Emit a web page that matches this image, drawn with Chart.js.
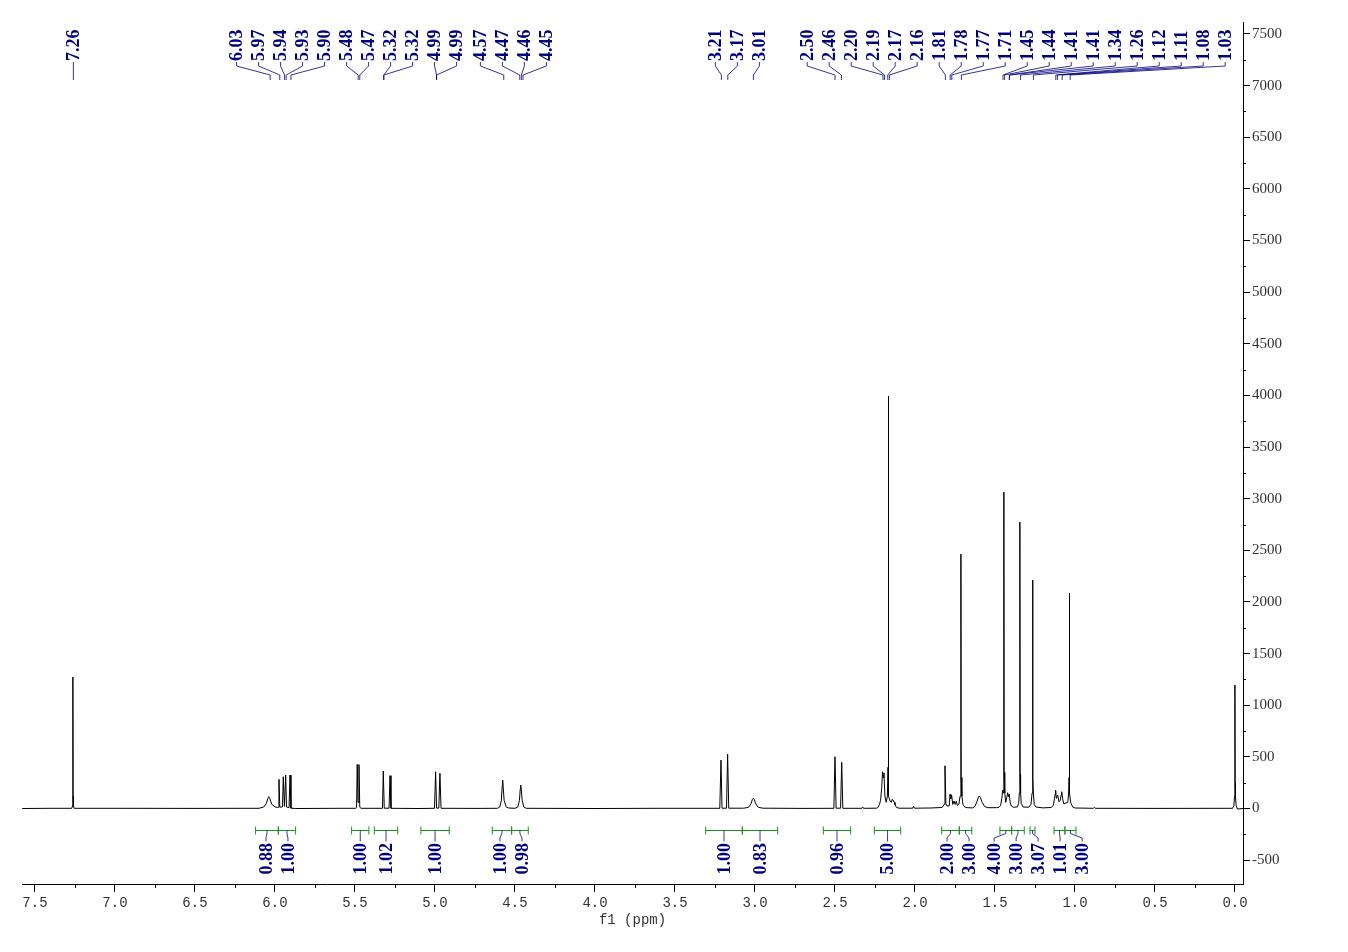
<!DOCTYPE html>
<html>
<head>
<meta charset="utf-8">
<title>1H NMR</title>
<script src="https://cdn.jsdelivr.net/npm/chart.js@4.4.0/dist/chart.umd.min.js"></script>
<style>
  html, body { margin: 0; padding: 0; background: #fff; }
  canvas { display: block; }
</style>
</head>
<body>
<canvas id="nmr" width="1348" height="952"></canvas>
<script>
// spectrum (ppm, intensity), high ppm first
const spectrumPpm = [
  7.58, 7.40, 7.270, 7.265, 7.2635, 7.2625, 7.2615, 7.260, 7.255, 7.0, 6.5, 6.2,
  6.10, 6.07, 6.055, 6.045, 6.039, 6.032, 6.02, 6.0, 5.985,
  5.980, 5.975, 5.970, 5.953, 5.948, 5.941, 5.933, 5.928, 5.912, 5.906, 5.900, 5.87,
  5.60, 5.495, 5.490, 5.486, 5.481, 5.475, 5.470, 5.462,
  5.33, 5.328, 5.323, 5.317, 5.287, 5.281, 5.275, 5.1,
  5.003, 4.996, 4.990, 4.976, 4.969, 4.962, 4.75,
  4.61, 4.595, 4.585, 4.580, 4.577, 4.574, 4.568, 4.555, 4.54,
  4.50, 4.482, 4.472, 4.467, 4.464, 4.461, 4.455, 4.445, 4.43,
  4.0, 3.6, 3.22, 3.2125, 3.206, 3.178, 3.171, 3.164,
  3.07, 3.04, 3.025, 3.016, 3.011, 3.005, 2.995, 2.98, 2.95, 2.70,
  2.507, 2.500, 2.493, 2.465, 2.458, 2.451, 2.332, 2.327, 2.322,
  2.24, 2.23, 2.222, 2.215, 2.208, 2.203, 2.199, 2.194, 2.188, 2.180,
  2.1725, 2.1685, 2.1675, 2.1665, 2.1625, 2.155, 2.148, 2.142, 2.137, 2.130, 2.125, 2.115, 2.10,
  2.014, 2.009, 2.004, 1.90,
  1.83, 1.818, 1.8125, 1.807, 1.80, 1.786, 1.781, 1.776, 1.771, 1.764,
  1.756, 1.749, 1.742, 1.735, 1.726, 1.718, 1.7135, 1.7125, 1.7115, 1.707, 1.700, 1.69, 1.675,
  1.64, 1.625, 1.612, 1.603, 1.598, 1.592, 1.580, 1.565, 1.545,
  1.49, 1.475, 1.465, 1.457, 1.452, 1.448, 1.445, 1.444, 1.443, 1.439, 1.433,
  1.426, 1.421, 1.416, 1.411, 1.405, 1.398, 1.385,
  1.36, 1.352, 1.348, 1.345, 1.344, 1.343, 1.340, 1.336, 1.325,
  1.29, 1.275, 1.268, 1.265, 1.264, 1.263, 1.260, 1.255, 1.245, 1.20,
  1.15, 1.135, 1.128, 1.124, 1.121, 1.117, 1.113, 1.108, 1.100,
  1.092, 1.087, 1.083, 1.078, 1.070,
  1.045, 1.040, 1.037, 1.036, 1.035, 1.032, 1.027, 1.015, 1.0,
  0.885, 0.879, 0.873, 0.5,
  0.015, 0.007, 0.003, 0.001, 0.0, -0.001, -0.003, -0.007, -0.015, -0.05
];
const spectrumIntensity = [
  0, 2, 2, 25, 120, 1273, 120, 25, 2, 2, 1, 2,
  2, 15, 45, 95, 114, 95, 40, 16, 10,
  12, 283, 14, 15, 308, 20, 324, 15, 8, 324, 3, 0,
  2, 2, 12, 428, 60, 425, 12, 2,
  2, 5, 363, 3, 3, 318, 2, 0,
  2, 356, 4, 4, 341, 2, 1,
  2, 15, 80, 220, 276, 220, 80, 15, 5,
  2, 15, 80, 190, 227, 190, 80, 15, 2,
  0, 2, 2, 469, 3, 3, 527, 3,
  3, 12, 45, 90, 99, 90, 45, 12, 3, 1,
  2, 501, 3, 3, 447, 2, 2, 15, 2,
  3, 12, 40, 80, 200, 356, 300, 345, 120, 60,
  120, 400, 3993, 400, 120, 70, 60, 89, 82, 60, 35, 10, 3,
  3, 24, 3, 5,
  10, 40, 414, 45, 25, 25, 137, 95, 130, 40,
  73, 40, 70, 30, 40, 120, 300, 2464, 300, 120, 40, 15, 8,
  6, 20, 70, 115, 121, 110, 60, 20, 8,
  8, 12, 30, 100, 179, 150, 350, 3064, 350, 150, 60,
  110, 153, 115, 140, 60, 25, 12,
  15, 50, 150, 330, 2774, 330, 150, 50, 15,
  12, 40, 150, 300, 2212, 300, 150, 40, 15, 6,
  10, 30, 100, 140, 179, 100, 115, 131, 66,
  80, 130, 163, 100, 45,
  60, 150, 300, 2086, 300, 150, 60, 15, 5,
  2, 12, 2, 1,
  2, 30, 120, 250, 1196, 250, 120, 30, -5, 0
];

// peak picking labels (text as printed)
const peakLabels = [
  '7.26', '6.03', '5.97', '5.94', '5.93', '5.90', '5.48', '5.47', '5.32', '5.32',
  '4.99', '4.99', '4.57', '4.47', '4.46', '4.45', '3.21', '3.17', '3.01',
  '2.50', '2.46', '2.20', '2.19', '2.17', '2.16',
  '1.81', '1.78', '1.77', '1.71', '1.45', '1.44', '1.41', '1.41', '1.34', '1.26',
  '1.12', '1.11', '1.08', '1.03'
];

// integration regions (ppm) and values
const integralFrom = [6.121, 5.979, 5.521, 5.379, 5.088, 4.642, 4.521, 3.308, 3.079, 2.573, 2.254, 1.833, 1.723, 1.469, 1.396, 1.281, 1.131, 1.063];
const integralTo   = [5.979, 5.871, 5.413, 5.233, 4.911, 4.521, 4.417, 3.079, 2.858, 2.402, 2.089, 1.723, 1.645, 1.396, 1.317, 1.250, 1.063, 0.994];
const integralValues = ['0.88', '1.00', '1.00', '1.02', '1.00', '1.00', '0.98', '1.00', '0.83', '0.96', '5.00', '2.00', '3.00', '4.00', '3.00', '3.07', '1.01', '3.00'];

const xTicks = [7.5, 7.0, 6.5, 6.0, 5.5, 5.0, 4.5, 4.0, 3.5, 3.0, 2.5, 2.0, 1.5, 1.0, 0.5, 0.0];
const yTicks = [-500, 0, 500, 1000, 1500, 2000, 2500, 3000, 3500, 4000, 4500, 5000, 5500, 6000, 6500, 7000, 7500];

const navy = '#000080';
const green = '#1f8f1f';
const labelFont = 'bold 18px "Liberation Serif", "Times New Roman", serif';

// spread labels so they do not overlap: group close anchors, centre each group,
// optionally merge groups that would collide, then push right
function spreadLabels(anchors, gap, joinDist, hi, merge) {
  let groups = [];
  anchors.forEach((a, i) => {
    const g = groups[groups.length - 1];
    if (g && a - anchors[g[g.length - 1]] < joinDist) g.push(i);
    else groups.push([i]);
  });
  const startOf = g => (anchors[g[0]] + anchors[g[g.length - 1]]) / 2 - (g.length - 1) * gap / 2;
  if (merge) {
    let changed = true;
    while (changed) {
      changed = false;
      for (let k = 1; k < groups.length; k++) {
        const a = groups[k - 1], b = groups[k];
        const endA = startOf(a) + (a.length - 1) * gap;
        if (startOf(b) < endA + gap) {
          groups.splice(k - 1, 2, a.concat(b));
          changed = true;
          break;
        }
      }
    }
  }
  const pos = [];
  let prevEnd = -Infinity;
  groups.forEach(g => {
    let start = startOf(g);
    if (start < prevEnd + gap) start = prevEnd + gap;
    g.forEach((idx, k) => { pos[idx] = start + k * gap; });
    prevEnd = pos[g[g.length - 1]];
  });
  let limit = hi;
  for (let i = pos.length - 1; i >= 0; i--) {
    if (pos[i] > limit) pos[i] = limit;
    limit = pos[i] - gap;
  }
  return pos;
}

function drawVertText(ctx, text, x, y, align) {
  ctx.save();
  ctx.translate(x, y);
  ctx.rotate(-Math.PI / 2);
  ctx.textAlign = align;
  ctx.textBaseline = 'middle';
  ctx.fillText(text, 0, 1);
  ctx.restore();
}

const nmrAnnotations = {
  id: 'nmrAnnotations',
  afterDraw(chart) {
    const { ctx, chartArea } = chart;
    const xs = chart.scales.x, ys = chart.scales.y;
    ctx.save();

    // minor ticks
    ctx.strokeStyle = '#000';
    ctx.lineWidth = 1;
    ctx.beginPath();
    for (let i = 0; i < xTicks.length - 1; i++) {
      const px = Math.round(xs.getPixelForValue((xTicks[i] + xTicks[i + 1]) / 2)) + 0.5;
      ctx.moveTo(px, chartArea.bottom);
      ctx.lineTo(px, chartArea.bottom + 4);
    }
    for (let i = 0; i < yTicks.length - 1; i++) {
      const py = Math.round(ys.getPixelForValue((yTicks[i] + yTicks[i + 1]) / 2)) + 0.5;
      ctx.moveTo(chartArea.right, py);
      ctx.lineTo(chartArea.right + 3, py);
    }
    ctx.stroke();

    // peak labels at the top
    const top = chartArea.top;
    const peakPx = peakLabels.map(t => xs.getPixelForValue(parseFloat(t)));
    const peakPos = spreadLabels(peakPx, 22, 45, chartArea.right - 4, false);
    ctx.font = labelFont;
    ctx.fillStyle = navy;
    ctx.strokeStyle = navy;
    ctx.lineWidth = 0.8;
    peakPx.forEach((px, i) => {
      const lx = peakPos[i];
      ctx.beginPath();
      ctx.moveTo(lx, top + 40);
      ctx.lineTo(lx, top + 44);
      ctx.lineTo(px, top + 53);
      ctx.lineTo(px, top + 58);
      ctx.stroke();
      drawVertText(ctx, peakLabels[i], lx, top + 39, 'left');
    });

    // integrals at the bottom
    const iy = chartArea.bottom - 53.5;
    ctx.strokeStyle = green;
    ctx.lineWidth = 1;
    const centers = [];
    integralFrom.forEach((a, i) => {
      const x1 = xs.getPixelForValue(a), x2 = xs.getPixelForValue(integralTo[i]);
      centers.push((x1 + x2) / 2);
      ctx.beginPath();
      ctx.moveTo(x1, iy); ctx.lineTo(x2, iy);
      ctx.moveTo(x1, iy - 4); ctx.lineTo(x1, iy + 4);
      ctx.moveTo(x2, iy - 4); ctx.lineTo(x2, iy + 4);
      ctx.stroke();
    });
    const intPos = spreadLabels(centers, 22, 22, chartArea.right - 4, true);
    ctx.strokeStyle = navy;
    ctx.lineWidth = 0.8;
    ctx.fillStyle = navy;
    ctx.font = labelFont;
    centers.forEach((cx, i) => {
      const lx = intPos[i];
      ctx.beginPath();
      ctx.moveTo(cx, iy);
      ctx.lineTo(cx, iy + 3);
      ctx.lineTo(lx, iy + 7.5);
      ctx.lineTo(lx, iy + 11);
      ctx.stroke();
      drawVertText(ctx, integralValues[i], lx, iy + 12.5, 'right');
    });

    // axis title
    ctx.fillStyle = '#333';
    ctx.font = '14px "Liberation Mono", monospace';
    ctx.textAlign = 'center';
    ctx.textBaseline = 'middle';
    ctx.fillText('f1 (ppm)', (chartArea.left + chartArea.right) / 2, 920);

    ctx.restore();
  }
};

const points = spectrumPpm.map((p, i) => ({ x: p, y: spectrumIntensity[i] }));

new Chart(document.getElementById('nmr').getContext('2d'), {
  type: 'line',
  data: {
    datasets: [{
      data: points,
      borderColor: '#000',
      borderWidth: 1,
      pointRadius: 0,
      tension: 0,
      fill: false
    }]
  },
  options: {
    responsive: false,
    animation: false,
    layout: { padding: { left: 22, top: 22, right: 0, bottom: 0 } },
    plugins: { legend: { display: false }, tooltip: { enabled: false } },
    scales: {
      x: {
        type: 'linear',
        reverse: true,
        min: -0.05,
        max: 7.581,
        afterBuildTicks: s => { s.ticks = xTicks.map(v => ({ value: v })); },
        afterFit: s => { s.height = 68; },
        grid: { drawOnChartArea: false, drawTicks: true, tickLength: 8, color: '#000' },
        border: { display: true, color: '#000', width: 1 },
        ticks: {
          autoSkip: false,
          maxRotation: 0,
          padding: 3,
          color: '#333',
          font: { family: '"Liberation Mono", monospace', size: 14 },
          callback: v => v.toFixed(1)
        }
      },
      y: {
        position: 'right',
        min: -731,
        max: 7616,
        afterBuildTicks: s => { s.ticks = yTicks.map(v => ({ value: v })); },
        afterFit: s => { s.width = 105; },
        grid: { drawOnChartArea: false, drawTicks: true, tickLength: 7, color: '#000' },
        border: { display: true, color: '#000', width: 1 },
        ticks: {
          autoSkip: false,
          padding: 2,
          color: '#333',
          font: { family: '"Liberation Serif", serif', size: 15 },
          callback: v => String(v)
        }
      }
    }
  },
  plugins: [nmrAnnotations]
});
</script>
</body>
</html>
